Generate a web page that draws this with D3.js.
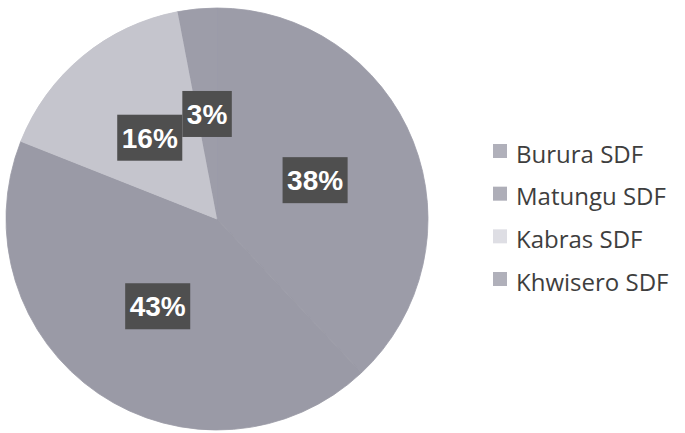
<!DOCTYPE html>
<html>
<head>
<meta charset="utf-8">
<script src="https://cdn.jsdelivr.net/npm/d3@7"></script>
<style>
  html, body { margin: 0; padding: 0; background: #ffffff; }
  svg { display: block; }
</style>
</head>
<body>
<svg id="chart" width="685" height="433"></svg>
<script>
const categories = ["Burura SDF", "Matungu SDF", "Kabras SDF", "Khwisero SDF"];
const values = [38, 43, 16, 3];
const labels = ["38%", "43%", "16%", "3%"];
const colors = ["#9c9ca8", "#9a9aa6", "#c5c5cd", "#9d9da9"];
const legendColors = ["#b0b0ba", "#aeaeb8", "#dedee4", "#b0b0ba"];

const svg = d3.select("#chart");
const cx = 217, cy = 219, r = 211;

const pie = d3.pie().sort(null).value(d => d).startAngle(0).endAngle(2 * Math.PI);
const arcs = pie(values);
const arc = d3.arc().innerRadius(0).outerRadius(r);
const labelArc = d3.arc().innerRadius(r * 0.5).outerRadius(r * 0.5);

const g = svg.append("g").attr("transform", `translate(${cx},${cy})`);

g.selectAll("path.slice")
  .data(arcs)
  .join("path")
  .attr("class", "slice")
  .attr("d", arc)
  .attr("fill", (d, i) => colors[i])
  .attr("stroke", (d, i) => colors[i])
  .attr("stroke-width", 0.8);

// redraw the light slice on top so its edges stay crisp
g.append("path")
  .attr("d", arc(arcs[2]))
  .attr("fill", colors[2]);

const lab = g.selectAll("g.lab")
  .data(arcs)
  .join("g")
  .attr("class", "lab")
  .attr("transform", d => `translate(${labelArc.centroid(d)})`);

lab.each(function(d, i) {
  const sel = d3.select(this);
  const t = sel.append("text")
    .attr("text-anchor", "middle")
    .attr("dy", "0.36em")
    .attr("font-family", "Liberation Sans, Arial, sans-serif")
    .attr("font-weight", "bold")
    .attr("font-size", 28)
    .attr("fill", "#ffffff")
    .text(labels[i]);
  const w = t.node().getComputedTextLength() + 9;
  const h = 46;
  sel.insert("rect", "text")
    .attr("x", -w / 2)
    .attr("y", -h / 2)
    .attr("width", w)
    .attr("height", h)
    .attr("fill", "#4f4f4f");
});

const legend = svg.append("g").attr("transform", "translate(493,154)");
const yLeg = d3.scalePoint().domain(categories).range([0, 128]);

const items = legend.selectAll("g.item")
  .data(categories)
  .join("g")
  .attr("class", "item")
  .attr("transform", d => `translate(0,${yLeg(d)})`);

items.append("rect")
  .attr("x", 0)
  .attr("y", -10)
  .attr("width", 14)
  .attr("height", 14)
  .attr("fill", (d, i) => legendColors[i]);

items.append("text")
  .attr("x", 23)
  .attr("dy", "0.36em")
  .attr("font-family", "Open Sans, sans-serif")
  .attr("font-size", 24)
  .attr("fill", "#3e3e3e")
  .text(d => d);
</script>
</body>
</html>
